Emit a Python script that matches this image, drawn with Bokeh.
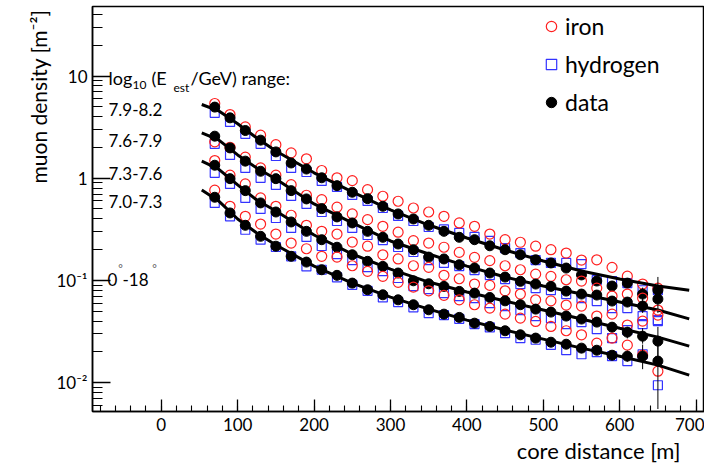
import math
from bokeh.plotting import figure
from bokeh.models import FixedTicker, Label, Legend, LegendItem, Range1d, Title
from bokeh.embed import file_html
from bokeh.resources import INLINE

# ---------------- data ----------------
distance = [70, 90, 110, 130, 150, 170, 190, 210, 230, 250, 270, 290, 310, 330, 350,
            370, 390, 410, 430, 450, 470, 490, 510, 530, 550, 570, 590, 610, 630, 650]

energy_bins = ["7.9-8.2", "7.6-7.9", "7.3-7.6", "7.0-7.3"]

data_79_82 = [4.97, 3.90, 2.93, 2.36, 1.81, 1.41, 1.23, 1.01, 0.846, 0.729, 0.631, 0.531, 0.447, 0.399, 0.346,
              0.302, 0.264, 0.250, 0.218, 0.1995, 0.178, 0.159, 0.148, 0.132, 0.113, 0.0985, 0.088, 0.094, 0.0734, 0.080]
iron_79_82 = [5.39, 4.20, 3.18, 2.64, 2.13, 1.77, 1.55, 1.19, 1.01, 0.947, 0.773, 0.666, 0.595, 0.511, 0.467,
              0.424, 0.365, 0.338, 0.284, 0.250, 0.236, 0.216, 0.1995, 0.185, 0.158, 0.159, 0.134, 0.110, 0.092, 0.084]
hydrogen_79_82 = [4.37, 3.56, 2.72, 2.17, 1.65, 1.26, 1.15, 0.941, 0.822, 0.686, 0.599, 0.511, 0.427, 0.381, 0.333,
                  0.315, 0.291, 0.266, 0.243, 0.207, 0.185, 0.158, 0.148, 0.148, 0.1445, 0.1007, 0.0985, 0.094, 0.080, 0.080]

data_76_79 = [2.58, 1.98, 1.47, 1.17, 0.99, 0.756, 0.627, 0.504, 0.418, 0.365, 0.302, 0.264, 0.227, 0.1995, 0.169,
              0.162, 0.142, 0.132, 0.118, 0.1077, 0.0978, 0.092, 0.0873, 0.0785, 0.0734, 0.0718, 0.0627, 0.0613, 0.056, 0.0656]
iron_76_79 = [2.27, 2.01, 1.61, 1.26, 1.07, 0.865, 0.681, 0.617, 0.520, 0.447, 0.393, 0.338, 0.296, 0.245, 0.232,
              0.211, 0.188, 0.168, 0.156, 0.139, 0.127, 0.115, 0.1094, 0.1014, 0.0985, 0.084, 0.0702, 0.0734, 0.067, 0.0512]
hydrogen_76_79 = [2.17, 1.69, 1.26, 1.01, 0.86, 0.671, 0.560, 0.467, 0.381, 0.326, 0.278, 0.248, 0.212, 0.1894, 0.158,
                  0.148, 0.138, 0.126, 0.1127, 0.103, 0.092, 0.084, 0.0803, 0.0734, 0.067, 0.0627, 0.0535, 0.0535, 0.0447, 0.0408]

data_73_76 = [1.34, 0.99, 0.756, 0.573, 0.467, 0.373, 0.302, 0.250, 0.211, 0.178, 0.1536, 0.137, 0.118, 0.099, 0.0926,
              0.0873, 0.078, 0.075, 0.068, 0.063, 0.0577, 0.0523, 0.0489, 0.0447, 0.0418, 0.039, 0.0348, 0.0311, 0.0284, 0.0254]
iron_73_76 = [1.49, 1.07, 0.879, 0.641, 0.531, 0.434, 0.346, 0.302, 0.284, 0.237, 0.216, 0.178, 0.162, 0.139, 0.134,
              0.112, 0.1037, 0.092, 0.0893, 0.079, 0.0734, 0.0645, 0.063, 0.0573, 0.056, 0.0447, 0.0467, 0.0365, 0.0399, 0.0457]
hydrogen_73_76 = [1.13, 0.879, 0.641, 0.500, 0.408, 0.326, 0.266, 0.217, 0.181, 0.158, 0.135, 0.1234, 0.1054, 0.088, 0.0822,
                  0.075, 0.0702, 0.067, 0.0599, 0.056, 0.0512, 0.0447, 0.0427, 0.0373, 0.039, 0.0333, 0.0272, 0.0326, 0.0373, 0.0399]

data_70_73 = [0.651, 0.457, 0.346, 0.270, 0.216, 0.172, 0.151, 0.127, 0.112, 0.094, 0.0809, 0.0722, 0.0645, 0.0577, 0.0515,
              0.0467, 0.0434, 0.0381, 0.0354, 0.0321, 0.0293, 0.0272, 0.0248, 0.0237, 0.0217, 0.0207, 0.0185, 0.0181, 0.0181, 0.0162]
iron_70_73 = [0.763, 0.531, 0.424, 0.356, 0.284, 0.232, 0.204, 0.172, 0.169, 0.139, 0.1225, 0.1094, 0.0956, 0.0859, 0.079,
              0.0713, 0.0645, 0.0577, 0.0535, 0.0467, 0.0427, 0.0396, 0.0354, 0.0321, 0.0293, 0.0243, 0.0272, 0.0232, 0.0185, 0.0129]
hydrogen_70_73 = [0.573, 0.424, 0.313, 0.250, 0.212, 0.172, 0.137, 0.127, 0.107, 0.0905, 0.079, 0.068, 0.0613, 0.0544, 0.0478,
                  0.0457, 0.042, 0.0373, 0.0346, 0.0304, 0.0272, 0.0262, 0.0234, 0.0207, 0.0189, 0.0198, 0.0181, 0.0162, 0.0189, 0.0094]

# error bars of the data at the largest distances
err_x = [590, 610, 630, 650]
err_lo_79_82 = [0.080, 0.084, 0.064, 0.060]
err_hi_79_82 = [0.097, 0.105, 0.085, 0.108]
err_lo_76_79 = [0.057, 0.055, 0.048, 0.048]
err_hi_76_79 = [0.069, 0.068, 0.065, 0.085]
err_lo_73_76 = [0.031, 0.027, 0.024, 0.018]
err_hi_73_76 = [0.039, 0.035, 0.034, 0.035]
err_lo_70_73 = [0.0165, 0.0160, 0.0135, 0.0055]
err_hi_70_73 = [0.0205, 0.0205, 0.0235, 0.024]

# fitted lateral distribution curves
fit_x = [53, 75, 100, 125, 150, 200, 250, 300, 350, 400, 450, 500, 550, 600, 650, 691]
fit_79_82 = [5.27, 4.57, 3.41, 2.48, 1.85, 1.13, 0.734, 0.489, 0.348, 0.260, 0.198, 0.1546, 0.1234, 0.103, 0.088, 0.080]
fit_76_79 = [2.78, 2.37, 1.69, 1.26, 0.984, 0.560, 0.365, 0.243, 0.181, 0.138, 0.1077, 0.088, 0.0734, 0.0613, 0.0512, 0.042]
fit_73_76 = [1.47, 1.23, 0.86, 0.612, 0.478, 0.278, 0.181, 0.129, 0.0962, 0.0768, 0.0627, 0.0512, 0.0418, 0.034, 0.0278, 0.0227]
fit_70_73 = [0.768, 0.599, 0.399, 0.291, 0.222, 0.138, 0.094, 0.0686, 0.0523, 0.0408, 0.0326, 0.0266, 0.0217, 0.0181, 0.0148, 0.0118]

x_major_ticks = [0, 100, 200, 300, 400, 500, 600, 700]
y_major_ticks = [0.01, 0.1, 1, 10]
y_tick_labels = {0.01: "10\u207b\u00b2", 0.1: "10\u207b\u00b9", 1: "1", 10: "10"}

# ---------------- figure ----------------
FONT = "Lato"
p = figure(width=704, height=465, title=None,
           x_range=Range1d(-90, 711), y_range=Range1d(0.0052, 48),
           y_axis_type="log", output_backend="svg", toolbar_location=None,
           min_border_left=92, min_border_right=0, min_border_top=6, min_border_bottom=53)
p.grid.visible = False
p.outline_line_color = "black"
p.outline_line_width = 1.5
p.background_fill_color = "white"
p.border_fill_color = "white"

x_minor = [v for v in range(-80, 711, 20)]
p.xaxis.ticker = FixedTicker(ticks=x_major_ticks, minor_ticks=x_minor)
y_minor = []
for dec in [0.001, 0.01, 0.1, 1, 10]:
    for k in range(2, 10):
        y_minor.append(round(dec * k, 6))
p.yaxis.ticker = FixedTicker(ticks=y_major_ticks, minor_ticks=y_minor)
p.yaxis.major_label_overrides = y_tick_labels

for ax in (p.xaxis[0], p.yaxis[0]):
    ax.axis_line_width = 1.5
    ax.axis_line_color = "black"
    ax.major_tick_line_color = "black"
    ax.minor_tick_line_color = "black"
    ax.major_tick_line_width = 1.3
    ax.minor_tick_line_width = 1.1
    ax.major_tick_out = 0
    ax.minor_tick_out = 0
    ax.major_label_text_font = FONT
    ax.major_label_text_font_size = "17px"
    ax.major_label_text_color = "black"
p.xaxis.major_tick_in = 12
p.xaxis.minor_tick_in = 6
p.xaxis.major_label_standoff = 6
p.yaxis.major_tick_in = 18
p.yaxis.minor_tick_in = 10
p.yaxis.major_label_standoff = 5

# axis titles as side titles (aligned to the frame ends)
p.add_layout(Title(text="muon density [m\u207b\u00b2]", align="right", offset=3, standoff=6,
                   text_font=FONT, text_font_size="21px", text_font_style="normal",
                   text_color="black"), "left")
p.add_layout(Title(text="core distance [m]", align="right", offset=24, standoff=3,
                   text_font=FONT, text_font_size="22px", text_font_style="normal",
                   text_color="black"), "below")

# ---------------- glyphs ----------------
groups = [
    (iron_79_82, hydrogen_79_82, data_79_82, fit_79_82, err_lo_79_82, err_hi_79_82),
    (iron_76_79, hydrogen_76_79, data_76_79, fit_76_79, err_lo_76_79, err_hi_76_79),
    (iron_73_76, hydrogen_73_76, data_73_76, fit_73_76, err_lo_73_76, err_hi_73_76),
    (iron_70_73, hydrogen_70_73, data_70_73, fit_70_73, err_lo_70_73, err_hi_70_73),
]
legend_r = {}
for iron, hyd, dat, fit, lo, hi in groups:
    rh = p.scatter(distance, hyd, marker="square", size=9, fill_color=None,
                   line_color="#3333ff", line_width=1.2)
    ri = p.scatter(distance, iron, marker="circle", size=10, fill_color=None,
                   line_color="#ff2020", line_width=1.2)
    p.segment(x0=err_x, y0=lo, x1=err_x, y1=hi, line_color="black", line_width=1)
    rd = p.scatter(distance, dat, marker="circle", size=10, fill_color="black",
                   line_color="black")
    p.line(fit_x, fit, line_color="black", line_width=3)
    legend_r.setdefault("iron", ri)
    legend_r.setdefault("hydrogen", rh)
    legend_r.setdefault("data", rd)

legend = Legend(items=[LegendItem(label="iron", renderers=[legend_r["iron"]]),
                       LegendItem(label="hydrogen", renderers=[legend_r["hydrogen"]]),
                       LegendItem(label="data", renderers=[legend_r["data"]])],
                location=(446, 295), orientation="vertical",
                glyph_width=26, glyph_height=26, label_height=26, label_standoff=1,
                spacing=10, padding=0, margin=0,
                border_line_color=None, background_fill_alpha=0,
                label_text_font=FONT, label_text_font_size="23px",
                label_text_color="black")
p.add_layout(legend)

# ---------------- annotations (screen units, frame-relative) ----------------
def lab(text, x, y, size="17px", align="left", baseline="alphabetic", color="black"):
    p.add_layout(Label(x=x, y=y, x_units="screen", y_units="screen", text=text,
                       text_font=FONT, text_font_size=size, text_align=align,
                       text_baseline=baseline, text_color=color))

lab("log", 16, 334, size="18px")
lab("10", 40, 327, size="12px")
lab("(E", 59, 334, size="18px")
lab("est", 81, 324, size="12px")
lab("/GeV) range:", 98, 334, size="18px")
for name, yb in zip(energy_bins, [302, 271, 238, 210]):
    lab(name, 16, yb)
lab("0", 15, 132)
lab("-18", 30, 132)
lab("\u00b0", 28, 143, size="11px", align="center", color="#555555")
lab("\u00b0", 62, 143, size="11px", align="center", color="#555555")

open("out.html", "w").write(file_html(p, INLINE))
